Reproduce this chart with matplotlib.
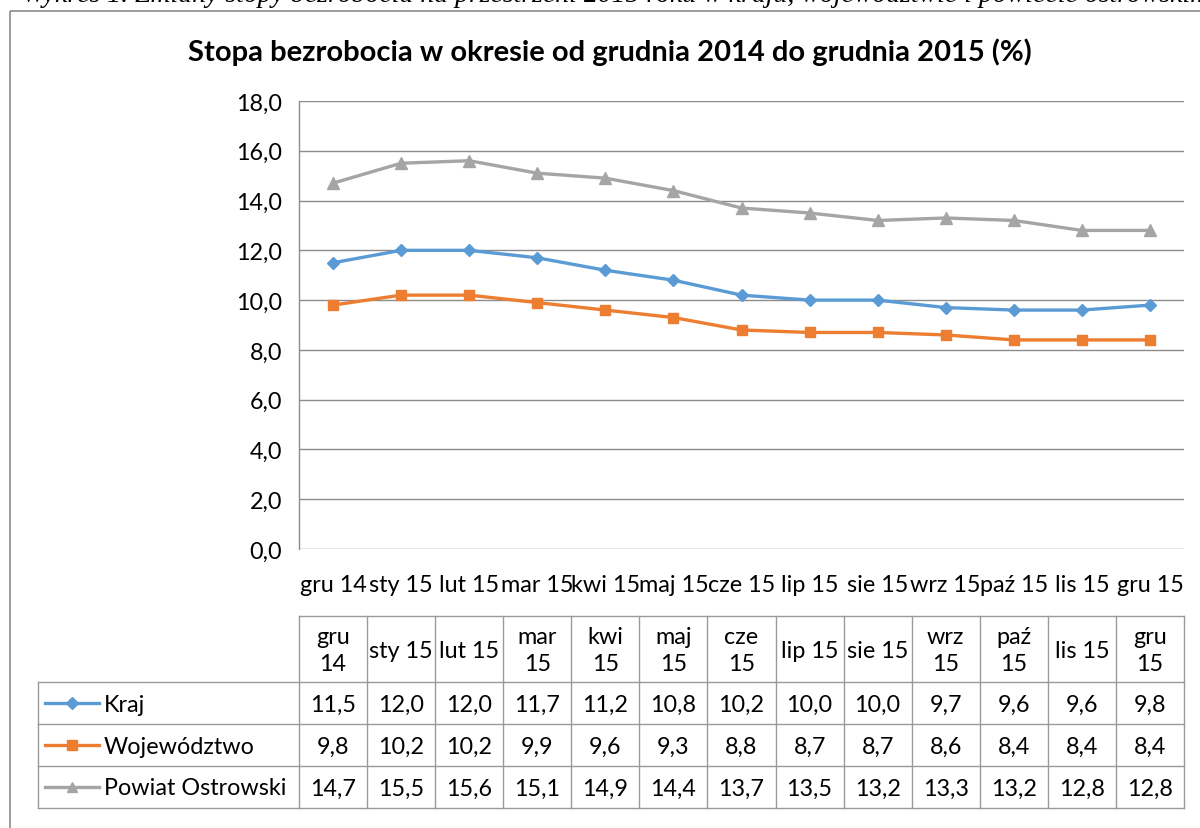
import matplotlib
matplotlib.use("Agg")
import matplotlib.pyplot as plt
from matplotlib.lines import Line2D
from matplotlib.patches import Rectangle

plt.rcParams['font.family'] = ['Lato', 'DejaVu Sans']

months = ["gru 14", "sty 15", "lut 15", "mar 15", "kwi 15", "maj 15", "cze 15",
          "lip 15", "sie 15", "wrz 15", "paź 15", "lis 15", "gru 15"]
header_labels = ["gru\n14", "sty 15", "lut 15", "mar\n15", "kwi\n15", "maj\n15", "cze\n15",
                 "lip 15", "sie 15", "wrz\n15", "paź\n15", "lis 15", "gru\n15"]
series_names = ["Kraj", "Województwo", "Powiat Ostrowski"]
kraj = [11.5, 12.0, 12.0, 11.7, 11.2, 10.8, 10.2, 10.0, 10.0, 9.7, 9.6, 9.6, 9.8]
wojewodztwo = [9.8, 10.2, 10.2, 9.9, 9.6, 9.3, 8.8, 8.7, 8.7, 8.6, 8.4, 8.4, 8.4]
powiat = [14.7, 15.5, 15.6, 15.1, 14.9, 14.4, 13.7, 13.5, 13.2, 13.3, 13.2, 12.8, 12.8]
yticks = [0, 2, 4, 6, 8, 10, 12, 14, 16, 18]
title = "Stopa bezrobocia w okresie od grudnia 2014 do grudnia 2015 (%)"
caption = "Wykres 1. Zmiany stopy bezrobocia na przestrzeni 2015 roku w kraju, województwie i powiecie ostrowskim"

series = [kraj, wojewodztwo, powiat]
colors = ["#5B9BD5", "#ED7D31", "#A5A5A5"]
markers = ["D", "s", "^"]
msizes = [6.5, 7, 8]
FS = 16.8

W, H = 1200, 829
fig = plt.figure(figsize=(W / 100, H / 100), dpi=100)

# overlay axes in pixel coordinates
fa = fig.add_axes([0, 0, 1, 1])
fa.set_xlim(0, W)
fa.set_ylim(H, 0)
fa.axis("off")

# caption (cut off at top) and outer frame
fa.text(22, 2, caption, family=["Liberation Serif", "DejaVu Serif"], style="italic",
        fontsize=20, ha="left", va="baseline", color="black", clip_on=False)
fa.add_patch(Rectangle((10, 12), 1250, 900, fill=False, ec="#8c8c8c", lw=1.2))

fa.text(610, 52, title, fontsize=21, fontweight="bold", ha="center", va="center")

# main plot
L, R, T, B = 299, 1184, 102, 550
ax = fig.add_axes([L / W, 1 - B / H, (R - L) / W, (B - T) / H])
x = list(range(len(months)))
for vals, c, m, ms in zip(series, colors, markers, msizes):
    ax.plot(x, vals, color=c, lw=2.4, marker=m, ms=ms, mec=c, mfc=c, zorder=3)
ax.set_xlim(-0.5, len(months) - 0.5)
ax.set_ylim(0, 18)
ax.set_yticks(yticks)
ax.set_yticklabels([f"{v:.1f}".replace(".", ",") for v in yticks], fontsize=FS)
ax.set_xticks(x)
ax.set_xticklabels(months, fontsize=FS)
ax.tick_params(axis="y", length=0, pad=12)
ax.tick_params(axis="x", length=0, pad=18)
ax.grid(axis="y", color="#8c8c8c", lw=1.0)
ax.set_axisbelow(True)
for s in ["top", "right", "bottom"]:
    ax.spines[s].set_visible(False)
ax.spines["left"].set_color("#8c8c8c")
ax.spines["left"].set_linewidth(1.0)

# data table
col_w = (R - L) / len(months)
hdr_top, hdr_bot = 617, 683
row_h = 42
leg_l = 38
gc = "#9a9a9a"
n_rows = len(series)
tab_bot = hdr_bot + n_rows * row_h

fa.plot([L, L + col_w * len(months)], [hdr_top, hdr_top], color=gc, lw=1)
for i in range(len(months) + 1):
    xx = L + i * col_w
    fa.plot([xx, xx], [hdr_top, tab_bot], color=gc, lw=1)
fa.plot([leg_l, leg_l], [hdr_bot, tab_bot], color=gc, lw=1)
for r in range(n_rows + 1):
    yy = hdr_bot + r * row_h
    fa.plot([leg_l, L + col_w * len(months)], [yy, yy], color=gc, lw=1)

for i, lab in enumerate(header_labels):
    fa.text(L + (i + 0.5) * col_w, (hdr_top + hdr_bot) / 2 + 1, lab, fontsize=FS,
            ha="center", va="center", linespacing=1.4)

for r, (name, vals, c, m, ms) in enumerate(zip(series_names, series, colors, markers, msizes)):
    yc = hdr_bot + (r + 0.5) * row_h
    fa.add_line(Line2D([45, 99], [yc, yc], color=c, lw=2.4))
    fa.add_line(Line2D([72], [yc], color=c, marker=m, ms=ms - 0.5, mec=c, mfc=c))
    fa.text(104, yc + 1, name, fontsize=FS, ha="left", va="center")
    for i, v in enumerate(vals):
        fa.text(L + (i + 0.5) * col_w, yc + 1, f"{v:.1f}".replace(".", ","), fontsize=FS,
                ha="center", va="center")

fig.savefig("out.png", dpi=100)
